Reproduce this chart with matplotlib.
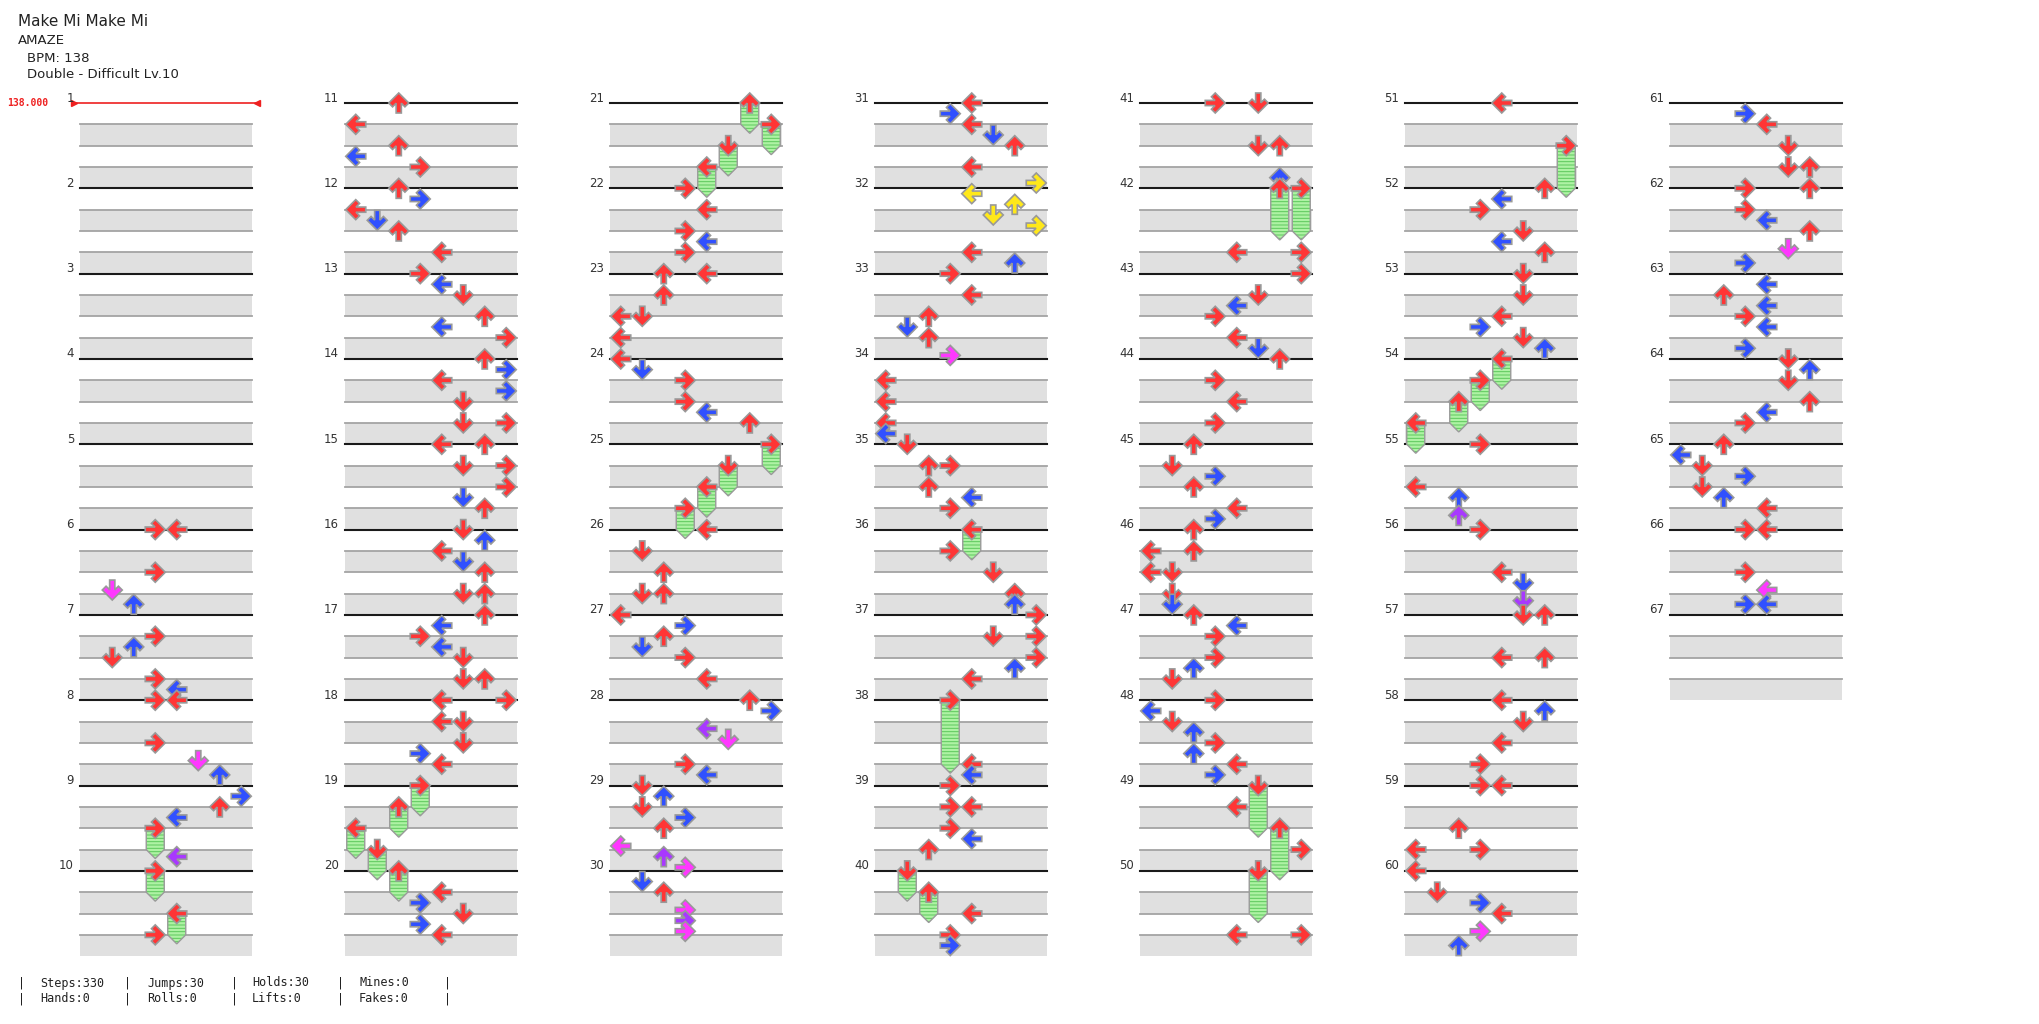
import math
import matplotlib
matplotlib.use('Agg')
import matplotlib.pyplot as plt
from matplotlib.patches import Polygon, Rectangle

# header / footer texts
song_title = 'Make Mi Make Mi'
song_artist = 'AMAZE'
bpm_label = 'BPM: 138'
chart_label = 'Double - Difficult Lv.10'
bpm_marker = '138.000'
stats_top = ['Steps:330', 'Jumps:30', 'Holds:30', 'Mines:0']
stats_bottom = ['Hands:0', 'Rolls:0', 'Lifts:0', 'Fakes:0']

n_measures = 67
measures_per_col = 10
beats_per_measure = 4
n_lanes = 8          # double: L D U R  L D U R

# notes: (measure, beat, lane, hold length in beats)
notes_01_10 = [
    (6, 0, 3, 0), (6, 0, 4, 0), (6, 2, 3, 0), (6, 17/6, 1, 0), (6, 3.5, 2, 0),
    (7, 1, 3, 0), (7, 1.5, 2, 0), (7, 2, 1, 0), (7, 3, 3, 0), (7, 3.5, 4, 0),
    (8, 0, 3, 0), (8, 0, 4, 0), (8, 2, 3, 0), (8, 17/6, 5, 0), (8, 3.5, 6, 0),
    (9, 0.5, 7, 0), (9, 1, 6, 0), (9, 1.5, 4, 0), (9, 2, 3, 1), (9, 10/3, 4, 0),
    (10, 0, 3, 1), (10, 2, 4, 1), (10, 3, 3, 0),
]
notes_11_20 = [
    (11, 0, 2, 0), (11, 1, 0, 0), (11, 2, 2, 0), (11, 2.5, 0, 0), (11, 3, 3, 0),
    (12, 0, 2, 0), (12, 0.5, 3, 0), (12, 1, 0, 0), (12, 1.5, 1, 0), (12, 2, 2, 0), (12, 3, 4, 0),
    (13, 0, 3, 0), (13, 0.5, 4, 0), (13, 1, 5, 0), (13, 2, 6, 0), (13, 2.5, 4, 0), (13, 3, 7, 0),
    (14, 0, 6, 0), (14, 0.5, 7, 0), (14, 1, 4, 0), (14, 1.5, 7, 0), (14, 2, 5, 0), (14, 3, 5, 0), (14, 3, 7, 0),
    (15, 0, 4, 0), (15, 0, 6, 0), (15, 1, 5, 0), (15, 1, 7, 0), (15, 2, 7, 0), (15, 2.5, 5, 0), (15, 3, 6, 0),
    (16, 0, 5, 0), (16, 0.5, 6, 0), (16, 1, 4, 0), (16, 1.5, 5, 0), (16, 2, 6, 0), (16, 3, 5, 0), (16, 3, 6, 0),
    (17, 0, 6, 0), (17, 0.5, 4, 0), (17, 1, 3, 0), (17, 1.5, 4, 0), (17, 2, 5, 0), (17, 3, 5, 0), (17, 3, 6, 0),
    (18, 0, 4, 0), (18, 0, 7, 0), (18, 1, 4, 0), (18, 1, 5, 0), (18, 2, 5, 0), (18, 2.5, 3, 0), (18, 3, 4, 0),
    (19, 0, 3, 1), (19, 1, 2, 1), (19, 2, 0, 1), (19, 3, 1, 1),
    (20, 0, 2, 1), (20, 1, 4, 0), (20, 1.5, 3, 0), (20, 2, 5, 0), (20, 2.5, 3, 0), (20, 3, 4, 0),
]
notes_21_30 = [
    (21, 0, 6, 1), (21, 1, 7, 1), (21, 2, 5, 1), (21, 3, 4, 1),
    (22, 0, 3, 0), (22, 1, 4, 0), (22, 2, 3, 0), (22, 2.5, 4, 0), (22, 3, 3, 0),
    (23, 0, 2, 0), (23, 0, 4, 0), (23, 1, 2, 0), (23, 2, 0, 0), (23, 2, 1, 0), (23, 3, 0, 0),
    (24, 0, 0, 0), (24, 0.5, 1, 0), (24, 1, 3, 0), (24, 2, 3, 0), (24, 2.5, 4, 0), (24, 3, 6, 0),
    (25, 0, 7, 1), (25, 1, 5, 1), (25, 2, 4, 1), (25, 3, 3, 1),
    (26, 0, 4, 0), (26, 1, 1, 0), (26, 2, 2, 0), (26, 3, 1, 0), (26, 3, 2, 0),
    (27, 0, 0, 0), (27, 0.5, 3, 0), (27, 1, 2, 0), (27, 1.5, 1, 0), (27, 2, 3, 0), (27, 3, 4, 0),
    (28, 0, 6, 0), (28, 0.5, 7, 0), (28, 4/3, 4, 0), (28, 11/6, 5, 0), (28, 3, 3, 0), (28, 3.5, 4, 0),
    (29, 0, 1, 0), (29, 0.5, 2, 0), (29, 1, 1, 0), (29, 1.5, 3, 0), (29, 2, 2, 0),
    (29, 17/6, 0, 0), (29, 10/3, 2, 0), (29, 23/6, 3, 0),
    (30, 0.5, 1, 0), (30, 1, 2, 0), (30, 11/6, 3, 0), (30, 7/3, 3, 0), (30, 17/6, 3, 0),
]
notes_31_40 = [
    (31, 0, 4, 0), (31, 0.5, 3, 0), (31, 1, 4, 0), (31, 1.5, 5, 0), (31, 2, 6, 0), (31, 3, 4, 0), (31, 3.75, 7, 0),
    (32, 0.25, 4, 0), (32, 0.75, 6, 0), (32, 1.25, 5, 0), (32, 1.75, 7, 0), (32, 3, 4, 0), (32, 3.5, 6, 0),
    (33, 0, 3, 0), (33, 1, 4, 0), (33, 2, 2, 0), (33, 2.5, 1, 0), (33, 3, 2, 0), (33, 23/6, 3, 0),
    (34, 1, 0, 0), (34, 2, 0, 0), (34, 3, 0, 0), (34, 3.5, 0, 0),
    (35, 0, 1, 0), (35, 1, 2, 0), (35, 1, 3, 0), (35, 2, 2, 0), (35, 2.5, 4, 0), (35, 3, 3, 0),
    (36, 0, 4, 1), (36, 1, 3, 0), (36, 2, 5, 0), (36, 3, 6, 0), (36, 3.5, 6, 0),
    (37, 0, 7, 0), (37, 1, 5, 0), (37, 1, 7, 0), (37, 2, 7, 0), (37, 2.5, 6, 0), (37, 3, 4, 0),
    (38, 0, 3, 3), (38, 3, 4, 0), (38, 3.5, 4, 0),
    (39, 0, 3, 0), (39, 1, 3, 0), (39, 1, 4, 0), (39, 2, 3, 0), (39, 2.5, 4, 0), (39, 3, 2, 0),
    (40, 0, 1, 1), (40, 1, 2, 1), (40, 2, 4, 0), (40, 3, 3, 0), (40, 3.5, 3, 0),
]
notes_41_50 = [
    (41, 0, 3, 0), (41, 0, 5, 0), (41, 2, 5, 0), (41, 2, 6, 0), (41, 3.5, 6, 0),
    (42, 0, 6, 2), (42, 0, 7, 2), (42, 3, 4, 0), (42, 3, 7, 0),
    (43, 0, 7, 0), (43, 1, 5, 0), (43, 1.5, 4, 0), (43, 2, 3, 0), (43, 3, 4, 0), (43, 3.5, 5, 0),
    (44, 0, 6, 0), (44, 1, 3, 0), (44, 2, 4, 0), (44, 3, 3, 0),
    (45, 0, 2, 0), (45, 1, 1, 0), (45, 1.5, 3, 0), (45, 2, 2, 0), (45, 3, 4, 0), (45, 3.5, 3, 0),
    (46, 0, 2, 0), (46, 1, 0, 0), (46, 1, 2, 0), (46, 2, 0, 0), (46, 2, 1, 0), (46, 3, 1, 0), (46, 3.5, 1, 0),
    (47, 0, 2, 0), (47, 0.5, 4, 0), (47, 1, 3, 0), (47, 2, 3, 0), (47, 2.5, 2, 0), (47, 3, 1, 0),
    (48, 0, 3, 0), (48, 0.5, 0, 0), (48, 1, 1, 0), (48, 1.5, 2, 0), (48, 2, 3, 0), (48, 2.5, 2, 0),
    (48, 3, 4, 0), (48, 3.5, 3, 0),
    (49, 0, 5, 2), (49, 1, 4, 0), (49, 2, 6, 2), (49, 3, 7, 0),
    (50, 0, 5, 2), (50, 3, 4, 0), (50, 3, 7, 0),
]
notes_51_60 = [
    (51, 0, 4, 0), (51, 2, 7, 2),
    (52, 0, 6, 0), (52, 0.5, 4, 0), (52, 1, 3, 0), (52, 2, 5, 0), (52, 2.5, 4, 0), (52, 3, 6, 0),
    (53, 0, 5, 0), (53, 1, 5, 0), (53, 2, 4, 0), (53, 2.5, 3, 0), (53, 3, 5, 0), (53, 3.5, 6, 0),
    (54, 0, 4, 1), (54, 1, 3, 1), (54, 2, 2, 1), (54, 3, 0, 1),
    (55, 0, 3, 0), (55, 2, 0, 0), (55, 2.5, 2, 0), (55, 10/3, 2, 0),
    (56, 0, 3, 0), (56, 2, 4, 0), (56, 2.5, 5, 0), (56, 10/3, 5, 0),
    (57, 0, 5, 0), (57, 0, 6, 0), (57, 2, 4, 0), (57, 2, 6, 0),
    (58, 0, 4, 0), (58, 0.5, 6, 0), (58, 1, 5, 0), (58, 2, 4, 0), (58, 3, 3, 0),
    (59, 0, 3, 0), (59, 0, 4, 0), (59, 2, 2, 0), (59, 3, 0, 0), (59, 3, 3, 0),
    (60, 0, 0, 0), (60, 1, 1, 0), (60, 1.5, 3, 0), (60, 2, 4, 0), (60, 17/6, 3, 0), (60, 3.5, 2, 0),
]
notes_61_67 = [
    (61, 0.5, 3, 0), (61, 1, 4, 0), (61, 2, 5, 0), (61, 3, 5, 0), (61, 3, 6, 0),
    (62, 0, 3, 0), (62, 0, 6, 0), (62, 1, 3, 0), (62, 1.5, 4, 0), (62, 2, 6, 0), (62, 17/6, 5, 0), (62, 3.5, 3, 0),
    (63, 0.5, 4, 0), (63, 1, 2, 0), (63, 1.5, 4, 0), (63, 2, 3, 0), (63, 2.5, 4, 0), (63, 3.5, 3, 0),
    (64, 0, 5, 0), (64, 0.5, 6, 0), (64, 1, 5, 0), (64, 2, 6, 0), (64, 2.5, 4, 0), (64, 3, 3, 0),
    (65, 0, 2, 0), (65, 0.5, 0, 0), (65, 1, 1, 0), (65, 1.5, 3, 0), (65, 2, 1, 0), (65, 2.5, 2, 0), (65, 3, 4, 0),
    (66, 0, 3, 0), (66, 0, 4, 0), (66, 2, 3, 0), (66, 17/6, 4, 0), (66, 3.5, 3, 0), (66, 3.5, 4, 0),
]

all_notes = (notes_01_10 + notes_11_20 + notes_21_30 + notes_31_40
             + notes_41_50 + notes_51_60 + notes_61_67)

# quantisation colours (4th, 8th, 12th, 16th, 24th)
quant_colors = [(1, '#ff3535'), (2, '#3050ff'), (3, '#a838ff'), (4, '#ffe81a'), (6, '#ff38ff')]

# layout in pixels
W, H = 2039, 1024
x_first = 80
col_step = 265
lane_w = 21.5
y_first = 103
beat_h = 21.33
arrow_size = 20


def note_color(beat):
    frac = beat % 1
    for n, col in quant_colors:
        if abs(frac * n - round(frac * n)) < 0.02:
            return col
    return '#888888'


def note_xy(measure, beat, lane):
    c = (measure - 1) // measures_per_col
    r = (measure - 1) % measures_per_col
    x = x_first + c * col_step + (lane + 0.5) * lane_w
    y = y_first + (r * beats_per_measure + beat) * beat_h
    return x, y


def arrow_points(cx, cy, lane, size):
    t, s = 0.27, 0.13
    a = t / math.sqrt(2)
    h = math.sqrt(2) * t
    base = [(0, 0.5), (0.5, 0.0), (0.5 - a, -a), (s, 0.5 - s - h), (s, -0.5),
            (-s, -0.5), (-s, 0.5 - s - h), (-(0.5 - a), -a), (-0.5, 0.0)]
    d = lane % 4
    pts = []
    for px, py in base:
        if d == 0:      # left
            qx, qy = -py, px
        elif d == 1:    # down
            qx, qy = px, py
        elif d == 2:    # up
            qx, qy = px, -py
        else:           # right
            qx, qy = py, px
        pts.append((cx + qx * size, cy + qy * size))
    return pts


plt.rcParams['hatch.linewidth'] = 0.7
fig = plt.figure(figsize=(W / 100, H / 100), dpi=100)
ax = fig.add_axes([0, 0, 1, 1])
ax.set_xlim(0, W)
ax.set_ylim(H, 0)
ax.axis('off')

# measure backgrounds and lines
for m in range(1, n_measures + 1):
    c = (m - 1) // measures_per_col
    r = (m - 1) % measures_per_col
    left = x_first + c * col_step
    right = left + n_lanes * lane_w
    top = y_first + r * beats_per_measure * beat_h
    for b in (1, 3):
        ax.add_patch(Rectangle((left, top + b * beat_h), right - left, beat_h,
                               facecolor='#e0e0e0', edgecolor='none', zorder=0))
    for b in (1, 2, 3):
        ax.plot([left, right], [top + b * beat_h] * 2, color='#a4a4a4', lw=1.3, zorder=1)
    if m == 1:
        ax.plot([left - 6, right + 5], [top, top], color='#ee2020', lw=1.2, zorder=1)
        ax.plot([left - 6], [top], marker='>', color='#ee2020', markersize=5, zorder=1)
        ax.plot([right + 5], [top], marker='<', color='#ee2020', markersize=5, zorder=1)
        ax.text(7, top, bpm_marker, color='#ee2020', fontsize=7, fontweight='bold',
                family='DejaVu Sans Mono', ha='left', va='center')
    else:
        ax.plot([left, right], [top, top], color='#1a1a1a', lw=1.5, zorder=1)
    ax.text(left - 6, top - 1.5, str(m), fontsize=8.5, color='#333333',
            ha='right', va='baseline')

# hold bodies
for m, beat, lane, hold in all_notes:
    if hold > 0:
        cx, cy = note_xy(m, beat, lane)
        ye = cy + hold * beat_h
        hw = 9
        pts = [(cx - hw, cy), (cx + hw, cy), (cx + hw, ye), (cx, ye + hw), (cx - hw, ye)]
        ax.add_patch(Polygon(pts, closed=True, facecolor='#aef2a4', edgecolor='#5cc85c',
                             hatch='-----', lw=0, zorder=2))
        ax.add_patch(Polygon(pts, closed=True, facecolor='none', edgecolor='#9a9a9a',
                             lw=1.0, zorder=2))

# arrows, later notes on top
for i, (m, beat, lane, hold) in enumerate(sorted(all_notes, key=lambda n: (n[0], n[1]))):
    cx, cy = note_xy(m, beat, lane)
    ax.add_patch(Polygon(arrow_points(cx, cy, lane, arrow_size), closed=True,
                         facecolor=note_color(beat), edgecolor='#999999', lw=1.2,
                         joinstyle='miter', zorder=3 + i * 0.001))

# header
ax.text(18, 22, song_title, fontsize=11, color='#222222', ha='left', va='center')
ax.text(18, 40, song_artist, fontsize=9.5, color='#222222', ha='left', va='center')
ax.text(27, 58, bpm_label, fontsize=9.5, color='#222222', ha='left', va='center')
ax.text(27, 75, chart_label, fontsize=9.5, color='#222222', ha='left', va='center')

# footer stats
pipe_x = [22, 128, 235, 341, 448]
stat_x = [40, 147, 252, 359]
for row_y, row in ((983, stats_top), (999, stats_bottom)):
    for px in pipe_x:
        ax.text(px, row_y, '|', fontsize=8.5, family='DejaVu Sans Mono', color='#222222',
                ha='center', va='center')
    for sx, s in zip(stat_x, row):
        ax.text(sx, row_y, s, fontsize=8.5, family='DejaVu Sans Mono', color='#222222',
                ha='left', va='center')

fig.savefig('out.png', dpi=100)
